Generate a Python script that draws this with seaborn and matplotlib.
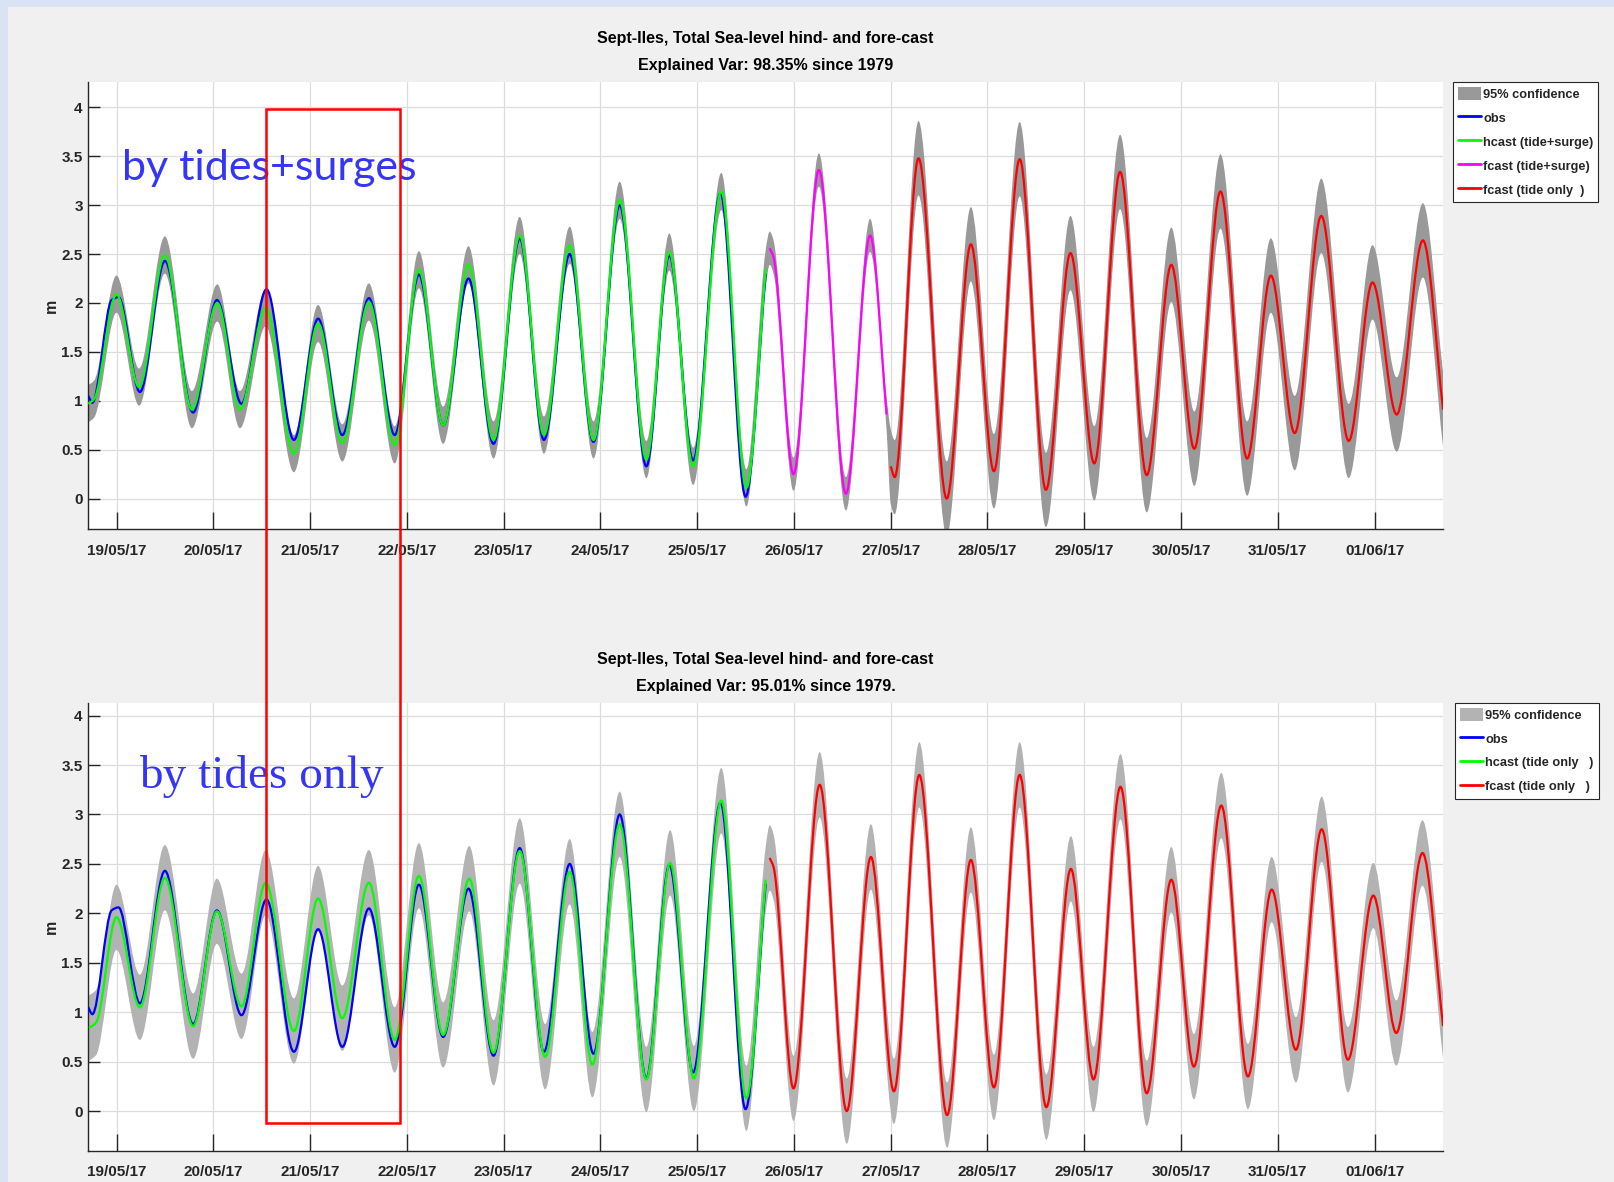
"""
Sept-Iles sea-level hind/fore-cast: tides+surges vs tides only.
Rebuilt with seaborn + matplotlib, values read off the original figure
(high and low waters of each series).
"""

import matplotlib

matplotlib.use("Agg")

import matplotlib.dates as mdates
import matplotlib.pyplot as plt
import numpy as np
import pandas as pd
import seaborn as sns
from matplotlib.lines import Line2D
from matplotlib.patches import Patch, PathPatch, Rectangle
from matplotlib.path import Path
from matplotlib.ticker import FuncFormatter

# --- Data (hours since 19/05/17 00:00, sea level in m) ---
START = pd.Timestamp("2017-05-19 00:00")
X_RANGE_H = (-7, 329)
DAY_TICKS = pd.date_range("2017-05-19", "2017-06-01", freq="D")

# observations (same in both panels)
OBS_H = [-7, -6, -1.2, 0.5, 5.8, 12, 19, 24.9, 31, 37.2, 44, 50, 56, 62.6, 69, 75,
         81, 87.3, 93.5, 100, 106, 112.4, 118.3, 124.8, 131.4, 137.1, 143, 149.8,
         156, 161]
OBS_M = [1.05, 0.98, 2.03, 2.06, 1.09, 2.43, 0.88, 2.03, 0.97, 2.14, 0.60, 1.84,
         0.65, 2.05, 0.65, 2.29, 0.75, 2.25, 0.56, 2.66, 0.60, 2.50, 0.58, 3.00,
         0.33, 2.49, 0.39, 3.12, 0.02, 2.30]

# top panel: tide+surge model
HCAST_TS_H = [-7, -5.5, 0, 5.6, 12, 18.7, 25, 30.6, 37, 44, 50, 56, 62.6, 69, 75,
              81, 87.3, 93.5, 100, 106, 112.4, 118.3, 124.8, 131.4, 137.1, 143,
              150, 156.2, 161]
HCAST_TS_M = [0.97, 1.02, 2.09, 1.14, 2.49, 0.91, 2.00, 0.91, 1.95, 0.46, 1.79,
              0.57, 2.01, 0.55, 2.34, 0.75, 2.39, 0.60, 2.69, 0.65, 2.59, 0.60,
              3.05, 0.40, 2.52, 0.33, 3.14, 0.11, 2.35]
FCAST_TS_H = [162, 163, 167.9, 174.2, 180.9, 186.9, 191]
FCAST_TS_M = [2.56, 2.46, 0.25, 3.36, 0.05, 2.69, 0.86]
FCAST_T1_H = [192, 193, 198.9, 205.9, 211.9, 217.6, 224, 230.5, 236.6, 242.5,
              248.9, 255.5, 261.6, 267.3, 273.8, 280.4, 286.3, 292.2, 298.8,
              305.6, 311.5, 317.5, 324, 329]
FCAST_T1_M = [0.33, 0.22, 3.48, 0.00, 2.60, 0.28, 3.47, 0.09, 2.51, 0.36, 3.34,
              0.24, 2.39, 0.51, 3.14, 0.41, 2.28, 0.67, 2.89, 0.59, 2.21, 0.86,
              2.64, 0.91]
CONF_TOP = [0.19, 0.17, 0.38]  # half-width of 95% band per segment

# bottom panel: tide only model
HCAST_T_H = [-6.8, -5, 0, 5.8, 12, 19, 24.9, 31, 37, 44, 50, 56, 62.6, 69, 75, 81,
             87.5, 93.5, 100, 106.3, 112.4, 118, 124.8, 131.4, 137.3, 143.2, 150,
             156.2, 161]
HCAST_T_M = [0.84, 0.90, 1.96, 1.05, 2.36, 0.86, 2.02, 1.06, 2.31, 0.81, 2.15,
             0.94, 2.31, 0.72, 2.38, 0.77, 2.35, 0.59, 2.63, 0.55, 2.42, 0.47,
             2.90, 0.32, 2.51, 0.33, 3.14, 0.13, 2.34]
FCAST_T2_H = [162, 163, 167.9, 174.4, 181.1, 187.1, 192.8, 199.1, 206, 211.9,
              217.6, 224, 230.6, 236.7, 242.3, 249, 255.5, 261.6, 267.2, 274,
              280.6, 286.5, 292.5, 298.9, 305.4, 311.7, 317.4, 323.9, 329]
FCAST_T2_M = [2.56, 2.46, 0.23, 3.30, 0.00, 2.57, 0.20, 3.40, -0.04, 2.54, 0.24,
              3.40, 0.04, 2.45, 0.32, 3.28, 0.18, 2.34, 0.45, 3.09, 0.35, 2.24,
              0.62, 2.85, 0.52, 2.18, 0.79, 2.61, 0.86]
CONF_BOTTOM = [0.33, 0.33]

TITLE = "Sept-Iles, Total Sea-level hind- and fore-cast"
SUBTITLES = ["Explained Var: 98.35% since 1979", "Explained Var: 95.01% since 1979."]
LEGEND_TOP = ["95% confidence", "obs", "hcast (tide+surge)", "fcast (tide+surge)",
              "fcast (tide only  )"]
LEGEND_BOTTOM = ["95% confidence", "obs", "hcast (tide only   )", "fcast (tide only   )"]

# --- Style ---
C_OBS, C_HCAST, C_FSURGE, C_FTIDE = "#0000ff", "#00ff00", "#ff00ff", "#ff0000"
INK = "#262626"
FONT = ["Liberation Sans", "DejaVu Sans"]

sns.set_theme(style="ticks")
plt.rcParams.update(
    {
        "font.family": FONT,
        "font.weight": "bold",
        "axes.edgecolor": INK,
        "axes.linewidth": 1.0,
        "xtick.color": INK,
        "ytick.color": INK,
        "text.color": INK,
    }
)


def to_num(hours):
    t = START + pd.to_timedelta(np.asarray(hours, dtype=float), unit="h")
    return mdates.date2num(t)


def _curve(x, y):
    """Vertices/codes of a smooth curve through (x, y): flat at highs and lows."""
    x = np.asarray(x, float)
    y = np.asarray(y, float)
    dx = np.diff(x)
    s = np.diff(y) / dx
    m = np.zeros_like(y)
    for i in range(1, len(y) - 1):
        if s[i - 1] * s[i] > 0:
            m[i] = 2 * s[i - 1] * s[i] / (s[i - 1] + s[i])
    m[0], m[-1] = s[0], s[-1]
    verts, codes = [(x[0], y[0])], [Path.MOVETO]
    for i, h in enumerate(dx):
        verts += [(x[i] + h / 3, y[i] + m[i] * h / 3),
                  (x[i + 1] - h / 3, y[i + 1] - m[i + 1] * h / 3),
                  (x[i + 1], y[i + 1])]
        codes += [Path.CURVE4] * 3
    return verts, codes


def draw_line(ax, hours, values, color):
    verts, codes = _curve(to_num(hours), values)
    ax.add_patch(PathPatch(Path(verts, codes), fill=False, edgecolor=color, lw=1.6,
                           joinstyle="round", capstyle="butt", zorder=3))


def draw_band(ax, segments, halfwidths, color):
    t = np.concatenate([to_num(h) for h, _ in segments])
    c = np.concatenate([np.asarray(v, float) for _, v in segments])
    w = np.concatenate([np.full(len(h), hw) for (h, _), hw in zip(segments, halfwidths)])
    up_v, up_c = _curve(t, c + w)
    lo_v, lo_c = _curve(t[::-1], (c - w)[::-1])
    verts = up_v + lo_v + [up_v[0]]
    codes = up_c + [Path.LINETO] + lo_c[1:] + [Path.CLOSEPOLY]
    ax.add_patch(PathPatch(Path(verts, codes), facecolor=color, edgecolor="none", zorder=1))


def style_axes(ax, ylim, subtitle):
    ax.set_facecolor("white")
    ax.xaxis_date()
    ax.set_xlim(to_num([X_RANGE_H[0]])[0], to_num([X_RANGE_H[1]])[0])
    ax.set_ylim(*ylim)
    ax.set_xticks(mdates.date2num(DAY_TICKS))
    ax.xaxis.set_major_formatter(mdates.DateFormatter("%d/%m/%y"))
    ax.set_yticks(np.arange(0, 4.01, 0.5))
    ax.yaxis.set_major_formatter(FuncFormatter(lambda v, _: f"{v:g}"))
    ax.grid(True, color="#dcdcdc", lw=0.9)
    ax.set_axisbelow(True)
    sns.despine(ax=ax)
    ax.tick_params(axis="x", direction="in", length=12, width=1, pad=10.5, labelsize=11)
    ax.tick_params(axis="y", direction="in", length=8.5, width=1, pad=4, labelsize=11)
    ax.set_ylabel("m", fontsize=11.5, fontweight="bold")
    ax.yaxis.set_label_coords(-0.0216, 0.5)
    ax.set_title(f"{TITLE}\n{subtitle}", fontsize=11.5, fontweight="bold",
                 linespacing=2.0, pad=8.5, color="black")


def add_legend(ax, labels, band_color, line_colors, anchor_x):
    handles = [Patch(facecolor=band_color, edgecolor="none", label=labels[0])]
    handles += [Line2D([], [], color=c, lw=2, label=l) for c, l in zip(line_colors, labels[1:])]
    leg = ax.legend(handles=handles, loc="upper left", bbox_to_anchor=(anchor_x, 1.0),
                    frameon=True, fancybox=False, framealpha=1, edgecolor=INK,
                    prop={"family": FONT, "weight": "bold", "size": 9.2},
                    handlelength=1.8, handleheight=1.17, handletextpad=0.15,
                    borderpad=0.4, labelspacing=0.8, borderaxespad=0)
    leg.get_frame().set_linewidth(0.8)


fig = plt.figure(figsize=(16.14, 11.82), dpi=100)
fig.patch.set_facecolor("#dae3f3")
fig.add_artist(Rectangle((8 / 1614, 0), 1, 1 - 7 / 1182, transform=fig.transFigure,
                         facecolor="#f0f0f0", edgecolor="none", zorder=-10))

ax1 = fig.add_axes([0.0547, 0.5525, 0.8394, 0.3782])
ax2 = fig.add_axes([0.0547, 0.0265, 0.8394, 0.3790])

# top: tides + surges
draw_band(ax1, [(HCAST_TS_H, HCAST_TS_M), (FCAST_TS_H, FCAST_TS_M), (FCAST_T1_H, FCAST_T1_M)],
          CONF_TOP, "#999999")
draw_line(ax1, OBS_H, OBS_M, C_OBS)
draw_line(ax1, HCAST_TS_H, HCAST_TS_M, C_HCAST)
draw_line(ax1, FCAST_TS_H, FCAST_TS_M, C_FSURGE)
draw_line(ax1, FCAST_T1_H, FCAST_T1_M, C_FTIDE)
style_axes(ax1, (-0.31, 4.26), SUBTITLES[0])
add_legend(ax1, LEGEND_TOP, "#999999", [C_OBS, C_HCAST, C_FSURGE, C_FTIDE], 1.0074)

# bottom: tides only
draw_band(ax2, [(HCAST_T_H, HCAST_T_M), (FCAST_T2_H, FCAST_T2_M)], CONF_BOTTOM, "#b3b3b3")
draw_line(ax2, OBS_H, OBS_M, C_OBS)
draw_line(ax2, HCAST_T_H, HCAST_T_M, C_HCAST)
draw_line(ax2, FCAST_T2_H, FCAST_T2_M, C_FTIDE)
style_axes(ax2, (-0.40, 4.13), SUBTITLES[1])
add_legend(ax2, LEGEND_BOTTOM, "#b3b3b3", [C_OBS, C_HCAST, C_FTIDE], 1.0089)

# slide annotations
fig.text(122 / 1614, 1 - 180 / 1182, "by tides+surges", color="#3535f5", fontsize=31,
         fontweight="normal", family=["Lato", "DejaVu Sans"], va="baseline", zorder=5)
fig.text(139 / 1614, 1 - 788 / 1182, "by tides only", color="#3535f5", fontsize=34,
         fontweight="normal", family=["Liberation Serif", "DejaVu Serif"], va="baseline", zorder=5)
fig.add_artist(Rectangle((266.3 / 1614, 1 - 1123 / 1182), 134 / 1614, 1014 / 1182,
                         transform=fig.transFigure, fill=False, edgecolor="#ff0000",
                         lw=1.8, zorder=10))

fig.savefig("out.png", dpi=100, facecolor=fig.get_facecolor())
plt.close(fig)
